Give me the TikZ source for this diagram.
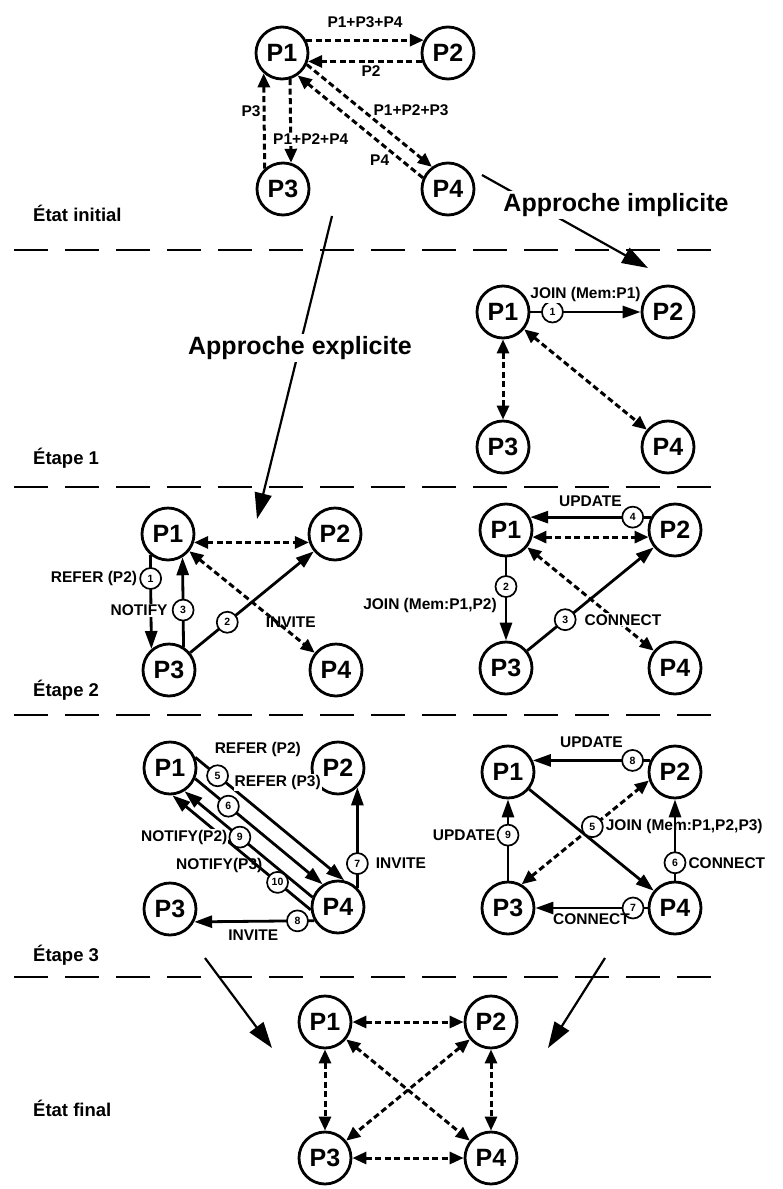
\documentclass[tikz,border=0pt]{standalone}
\usepackage{fontspec}
\setmainfont{Liberation Sans}
\usetikzlibrary{arrows.meta,positioning}
\newcommand\fNode{\fontsize{25}{25}\selectfont\bfseries}
\newcommand\fLab{\fontsize{15.5}{16}\selectfont\bfseries}
\newcommand\fNum{\fontsize{10.5}{10.5}\selectfont\bfseries}
\newcommand\fStage{\fontsize{18.5}{19}\selectfont\bfseries}
\newcommand\fAppr{\fontsize{25}{26}\selectfont\bfseries}
\tikzset{
  pnode/.style={circle,draw,solid,line width=2.8pt,minimum size=52pt,inner sep=0pt,font=\fNode,fill=white},
  numc/.style={circle,draw,solid,fill=white,line width=1.7pt,minimum size=21pt,inner sep=0pt,font=\fNum},
  elab/.style={font=\fLab,inner sep=1pt},
  elabw/.style={elab,fill=white},
  solarr/.style={line width=2.8pt,-{Triangle[length=18pt,width=12pt]}},
  dsharr/.style={line width=3pt,dash pattern=on 6pt off 3.5pt,-{Triangle[length=14pt,width=12pt]}},
  dshboth/.style={line width=3pt,dash pattern=on 6pt off 3.5pt,{Triangle[length=14pt,width=12pt]}-{Triangle[length=14pt,width=12pt]}},
  sepline/.style={line width=2.8pt,dash pattern=on 34pt off 17pt},
  apparr/.style={line width=2.2pt,-{Triangle[length=26pt,width=17pt]}},
  applab/.style={font=\fAppr,fill=white,inner sep=2pt},
  stagelab/.style={font=\fStage,anchor=west,inner sep=0pt}
}
\begin{document}
\begin{tikzpicture}[x=1pt,y=1pt]
\useasboundingbox (0,0) rectangle (782,-1189);
% separators
\foreach \yy in {250,487,715,977} \draw[sepline] (14,-\yy) -- (711,-\yy);
% stage labels
\node[stagelab] (s0) at (33,-213) {État initial};
\node[stagelab] (s1) at (33,-458) {Étape 1};
\node[stagelab] (s2) at (33,-690) {Étape 2};
\node[stagelab] (s3) at (33,-955) {Étape 3};
\node[stagelab] (s4) at (33,-1108) {État final};

% ---------- initial state
\node[pnode] (a1) at (282,-53) {P1};
\node[pnode] (a2) at (448,-53) {P2};
\node[pnode] (a3) at (283,-189) {P3};
\node[pnode] (a4) at (448,-189) {P4};
\draw[dsharr] (a1.28) -- (a2.152) node[midway,above=10pt,elab]{P1+P3+P4};
\draw[dsharr] (a2.-162) -- (a1.-18) node[midway,below=2pt,elab,xshift=6pt]{P2};
\draw[dsharr] (a1.-25) -- (a4.126) node[pos=0.45,right=8pt,elab]{P1+P2+P3};
\draw[dsharr] (a4.156) -- (a1.-55) node[pos=0.25,below left=0pt,elab]{P4};
\draw[dsharr] (a1.-73) -- (a3.73) node[pos=0.72,xshift=20pt,elabw]{P1+P2+P4};
\draw[dsharr] (a3.132) -- (a1.-132) node[pos=0.6,left=1pt,elab]{P3};

% ---------- approaches
\coordinate (imA) at (482,-175);
\coordinate (imB) at (648,-268);
\draw[apparr] (imA) -- (imB);
\node[applab] (imL) at (616,-205) {Approche implicite};
\coordinate (exA) at (332,-216);
\coordinate (exB) at (257,-519);
\draw[apparr] (exA) -- (exB);
\node[applab] (exL) at (300,-348) {Approche explicite};

% ---------- step 1 (implicit)
\node[pnode] (b1) at (503,-312) {P1};
\node[pnode] (b2) at (668,-312) {P2};
\node[pnode] (b3) at (503,-447) {P3};
\node[pnode] (b4) at (668,-447) {P4};
\draw[solarr] (b1) -- (b2) node[numc,pos=0.2]{1} node[midway,above=8pt,elabw]{JOIN (Mem:P1)};
\draw[dshboth] (b1) -- (b3);
\draw[dshboth] (b1) -- (b4);

% ---------- step 2 explicit
\node[pnode] (c1) at (168,-534) {P1};
\node[pnode] (c2) at (335,-534) {P2};
\node[pnode] (c3) at (169,-670) {P3};
\node[pnode] (c4) at (336,-670) {P4};
\draw[dshboth] (c1.-18) -- (c2.-162);
\draw[dshboth] (c1) -- (c4);
\draw[solarr] (c1.-130) -- (c3.130) node[numc,pos=0.25](n21){1};
\node[elab,left=1pt of n21]{REFER (P2)};
\draw[solarr] (c3.58) -- (c1.-58) node[numc,pos=0.41](n23){3};
\node[elabw,left=3pt of n23]{NOTIFY};
\draw[solarr] (c3) -- (c2) node[numc,pos=0.3](n22){2};
\node[elab,right=26pt of n22]{INVITE};

% ---------- step 2 implicit
\node[pnode] (d1) at (506,-530) {P1};
\node[pnode] (d2) at (675,-530) {P2};
\node[pnode] (d3) at (506,-668) {P3};
\node[pnode] (d4) at (675,-668) {P4};
\draw[solarr] (d2.152) -- (d1.28) node[numc,pos=0.15]{4} node[midway,above=8pt,elab]{UPDATE};
\draw[dshboth] (d1.-15) -- (d2.-165);
\draw[dshboth] (d1) -- (d4);
\draw[solarr] (d1) -- (d3) node[numc,pos=0.35](n32){2};
\node[elab,anchor=north east] at ([yshift=-3pt]n32.south west) {JOIN (Mem:P1,P2)};
\draw[solarr] (d3) -- (d2) node[numc,pos=0.3](n33){3};
\node[elabw,right=7pt of n33]{CONNECT};

% ---------- step 3 explicit
\node[pnode] (e1) at (170,-768) {P1};
\node[pnode] (e2) at (338,-768) {P2};
\node[pnode] (e3) at (170,-909) {P3};
\node[pnode] (e4) at (338,-907) {P4};
\draw[solarr] (e1.23) -- (e4.77) node[numc,pos=0.15](n5){5};
\draw[solarr] (e1.-23) -- (e4.124) node[numc,pos=0.26](n6){6};
\draw[solarr] (e4.159) -- (e1.-58) node[numc,pos=0.567](n9){9};
\draw[solarr] (e4.186) -- (e1.-85) node[numc,pos=0.24](n10){10};
\draw[solarr] (e4.-150) -- (e3.-28) node[numc,pos=0.14](n8){8};
\draw[solarr] (e4.45) -- (e2.-45) node[numc,pos=0.24](n7){7};
\node[elabw,anchor=south west] at ([shift={(-4pt,6.5pt)}]n5.north) {REFER (P2)};
\node[elabw,anchor=south west] at ([shift={(5pt,4pt)}]n6.north) {REFER (P3)};
\node[elabw,left=0pt of n9]{NOTIFY(P2)};
\node[elab,anchor=south east] at ([xshift=-6pt]n10.north west) {NOTIFY(P3)};
\node[elab,anchor=north east] at ([xshift=-10pt]n8.south west) {INVITE};
\node[elab,right=6pt of n7]{INVITE};

% ---------- step 3 implicit
\node[pnode] (f1) at (508,-772) {P1};
\node[pnode] (f2) at (675,-772) {P2};
\node[pnode] (f3) at (508,-908) {P3};
\node[pnode] (f4) at (675,-908) {P4};
\draw[solarr] (f2.155) -- (f1.25) node[numc,pos=0.15]{8} node[midway,above=10pt,elab]{UPDATE};
\draw[solarr] (f1) -- (f4);
\draw[dshboth] (f3.60) -- (f2.198) node[numc,pos=0.555](m5){5};
\node[elabw,right=1pt of m5]{JOIN (Mem:P1,P2,P3)};
\draw[solarr] (f3) -- (f1) node[numc,pos=0.56](m9){9};
\node[elab,left=0pt of m9]{UPDATE};
\draw[solarr] (f4) -- (f2) node[numc,pos=0.22](m6){6};
\node[elab,right=1pt of m6]{CONNECT};
\draw[solarr] (f4) -- (f3) node[numc,pos=0.13]{7} node[midway,below=3pt,elab]{CONNECT};

% ---------- arrows to final
\coordinate (bl0) at (205,-958);
\coordinate (bl1) at (272,-1048);
\coordinate (br0) at (605,-958);
\coordinate (br1) at (548,-1048);
\draw[apparr] (bl0) -- (bl1);
\draw[apparr] (br0) -- (br1);

% ---------- final state
\node[pnode] (g1) at (325,-1022) {P1};
\node[pnode] (g2) at (491,-1022) {P2};
\node[pnode] (g3) at (325,-1158) {P3};
\node[pnode] (g4) at (491,-1158) {P4};
\draw[dshboth] (g1) -- (g2);
\draw[dshboth] (g3) -- (g4);
\draw[dshboth] (g1) -- (g3);
\draw[dshboth] (g2) -- (g4);
\draw[dshboth] (g1) -- (g4);
\draw[dshboth] (g2) -- (g3);
\end{tikzpicture}
\end{document}
